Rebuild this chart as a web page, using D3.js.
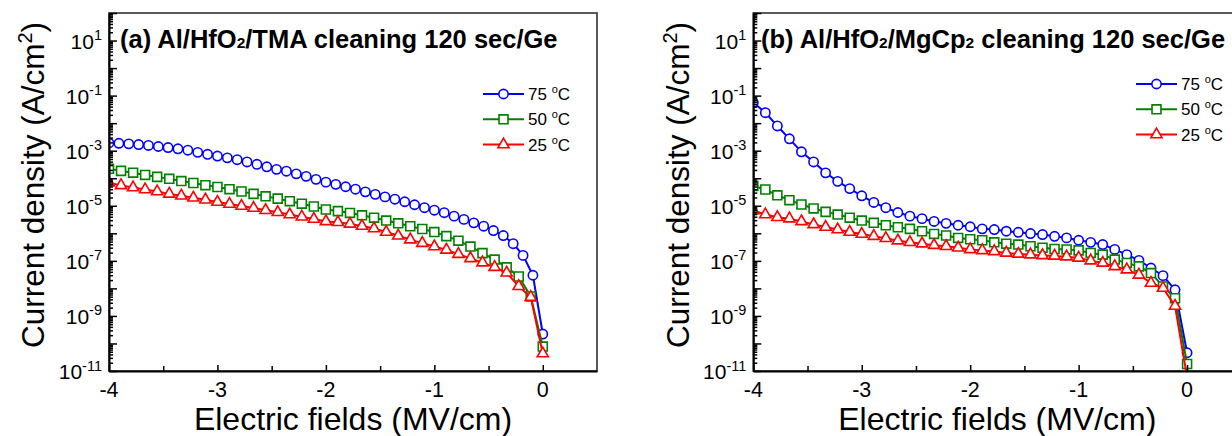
<!DOCTYPE html>
<html>
<head>
<meta charset="utf-8">
<script src="https://cdn.jsdelivr.net/npm/d3@7"></script>
<style>
  body { margin: 0; background: #fff; }
  svg { font-family: "Liberation Sans", Arial, sans-serif; }
</style>
</head>
<body>
<svg width="1232" height="436"></svg>
<script>
// electric field steps (MV/cm); the 75 C curve of panel (a) was measured on a finer grid
const fieldsFine = [-4, -3.909, -3.818, -3.727, -3.636, -3.545, -3.455, -3.364, -3.273, -3.182, -3.091,
  -3, -2.909, -2.818, -2.727, -2.636, -2.545, -2.455, -2.364, -2.273, -2.182, -2.091,
  -2, -1.909, -1.818, -1.727, -1.636, -1.545, -1.455, -1.364, -1.273, -1.182, -1.091,
  -1, -0.909, -0.818, -0.727, -0.636, -0.545, -0.455, -0.364, -0.273, -0.182, -0.091, 0];
const fieldsCoarse = [-4, -3.889, -3.778, -3.667, -3.556, -3.444, -3.333, -3.222, -3.111,
  -3, -2.889, -2.778, -2.667, -2.556, -2.444, -2.333, -2.222, -2.111,
  -2, -1.889, -1.778, -1.667, -1.556, -1.444, -1.333, -1.222, -1.111,
  -1, -0.889, -0.778, -0.667, -0.556, -0.444, -0.333, -0.222, -0.111, 0];

// current density (A/cm2), panel (a) TMA cleaning
const tmaJ75 = [1.9e-3, 1.86e-3, 1.77e-3, 1.67e-3, 1.55e-3, 1.42e-3, 1.30e-3, 1.17e-3, 1.04e-3, 8.7e-4,
  7.4e-4, 6.4e-4, 5.5e-4, 4.7e-4, 3.9e-4, 3.2e-4, 2.6e-4, 2.1e-4, 1.8e-4, 1.44e-4,
  1.17e-4, 9.1e-5, 7.2e-5, 6.0e-5, 4.9e-5, 4.0e-5, 3.2e-5, 2.6e-5, 2.1e-5, 1.73e-5,
  1.40e-5, 1.09e-5, 8.5e-6, 6.9e-6, 5.6e-6, 4.2e-6, 3.2e-6, 2.4e-6, 1.81e-6, 1.26e-6,
  8.3e-7, 4.2e-7, 1.58e-7, 3.0e-8, 2.2e-10];
const tmaJ50 = [2.2e-4, 1.85e-4, 1.59e-4, 1.32e-4, 1.12e-4, 9.5e-5, 7.9e-5, 6.7e-5, 5.6e-5, 4.8e-5,
  4.0e-5, 3.3e-5, 2.7e-5, 2.2e-5, 1.82e-5, 1.47e-5, 1.19e-5, 9.4e-6, 7.3e-6, 6.4e-6,
  5.5e-6, 4.5e-6, 3.7e-6, 2.9e-6, 2.3e-6, 1.81e-6, 1.43e-6, 1.11e-6, 7.9e-7, 5.4e-7,
  3.3e-7, 1.91e-7, 1.11e-7, 5.8e-8, 2.7e-8, 5.1e-9, 7.7e-11];
const tmaJ25 = [6.8e-5, 5.5e-5, 4.6e-5, 3.9e-5, 3.3e-5, 2.7e-5, 2.3e-5, 1.95e-5, 1.66e-5, 1.37e-5,
  1.16e-5, 9.8e-6, 8.3e-6, 6.9e-6, 5.8e-6, 4.8e-6, 4.0e-6, 3.3e-6, 2.7e-6, 2.5e-6,
  2.2e-6, 1.84e-6, 1.49e-6, 1.11e-6, 8.1e-7, 5.9e-7, 4.4e-7, 3.3e-7, 2.5e-7, 1.75e-7,
  1.23e-7, 8.6e-8, 5.9e-8, 3.7e-8, 1.2e-8, 4.8e-9, 4.3e-11];

// panel (b) MgCp2 cleaning
const mgJ75 = [5.6e-2, 2.4e-2, 7.9e-3, 2.7e-3, 9.1e-4, 3.9e-4, 1.57e-4, 7.7e-5, 4.2e-5, 2.3e-5,
  1.32e-5, 8.5e-6, 5.7e-6, 4.2e-6, 3.4e-6, 2.7e-6, 2.3e-6, 1.96e-6, 1.73e-6, 1.45e-6,
  1.37e-6, 1.19e-6, 1.09e-6, 9.8e-7, 9.0e-7, 7.8e-7, 6.8e-7, 5.6e-7, 4.7e-7, 3.9e-7,
  2.6e-7, 1.68e-7, 1.04e-7, 5.5e-8, 2.9e-8, 8.9e-9, 4.6e-11];
const mgJ50 = [5.2e-5, 3.9e-5, 2.4e-5, 1.60e-5, 1.11e-5, 8.0e-6, 6.0e-6, 4.8e-6, 3.7e-6, 2.9e-6,
  2.4e-6, 1.96e-6, 1.66e-6, 1.45e-6, 1.19e-6, 9.5e-7, 8.3e-7, 6.8e-7, 6.1e-7, 5.6e-7,
  4.7e-7, 4.2e-7, 3.9e-7, 3.4e-7, 3.0e-7, 2.7e-7, 2.6e-7, 2.4e-7, 1.94e-7, 1.68e-7,
  1.11e-7, 8.4e-8, 6.3e-8, 3.6e-8, 1.18e-8, 4.4e-9, 1.8e-11];
const mgJ25 = [6.7e-6, 4.8e-6, 3.8e-6, 3.4e-6, 2.7e-6, 2.1e-6, 1.69e-6, 1.37e-6, 1.11e-6, 9.4e-7,
  7.9e-7, 6.6e-7, 5.4e-7, 4.7e-7, 4.2e-7, 3.7e-7, 3.4e-7, 3.0e-7, 2.6e-7, 2.4e-7,
  2.2e-7, 1.94e-7, 1.78e-7, 1.68e-7, 1.58e-7, 1.51e-7, 1.42e-7, 1.28e-7, 1.02e-7, 8.4e-8,
  6.3e-8, 4.8e-8, 3.1e-8, 1.57e-8, 1.03e-8, 2.3e-9, 6e-12];

const temperatures = ["75", "50", "25"];
const xTickValues = [-4, -3, -2, -1, 0];
const xMinorTicks = [-3.5, -2.5, -1.5, -0.5];
const yLabelExponents = [1, -1, -3, -5, -7, -9, -11];
const titleParts = [
  ["(a) Al/HfO", "/TMA cleaning 120 sec/Ge"],
  ["(b) Al/HfO", "/MgCp", " cleaning 120 sec/Ge"]
];

const seriesColors = ["#0000ff", "#008000", "#ff0000"];
const seriesSymbols = [d3.symbolCircle, d3.symbolSquare, d3.symbolTriangle];
const symbolSizes = [68, 80, 54];

const plotTop = 13;
const plotBottom = 371;
const plotWidth = 488;

const panels = [
  {
    left: 109, titleX: 120, legendX: 483, legendY: 94, labelX: 44,
    series: [[fieldsFine, tmaJ75], [fieldsCoarse, tmaJ50], [fieldsCoarse, tmaJ25]]
  },
  {
    left: 753.3, titleX: 761, legendX: 1136, legendY: 84, labelX: 689,
    series: [[fieldsCoarse, mgJ75], [fieldsCoarse, mgJ50], [fieldsCoarse, mgJ25]]
  }
];

const svg = d3.select("svg");

panels.forEach((panel, index) => drawPanel(panel, index));

function drawPanel(panel, index)
{
  const x = d3.scaleLinear().domain([-4, 0.5]).range([panel.left, panel.left + plotWidth]);
  const y = d3.scaleLog().domain([1e-11, 1e2]).range([plotBottom, plotTop]);

  const g = svg.append("g");

  g.append("clipPath")
    .attr("id", `clip-${ index }`)
    .append("rect")
    .attr("x", panel.left)
    .attr("y", plotTop)
    .attr("width", plotWidth)
    .attr("height", plotBottom - plotTop);

  // frame
  g.append("rect")
    .attr("x", panel.left)
    .attr("y", plotTop)
    .attr("width", plotWidth)
    .attr("height", plotBottom - plotTop)
    .attr("fill", "none")
    .attr("stroke", "#333")
    .attr("stroke-width", 1.6);

  // data
  const data = g.append("g").attr("clip-path", `url(#clip-${ index })`);
  panel.series.forEach((s, si) =>
  {
    const points = s[0].map((f, i) => [f, s[1][i]]);
    const line = d3.line().x((d) => x(d[0])).y((d) => y(d[1]));
    data.append("path")
      .attr("d", line(points))
      .attr("fill", "none")
      .attr("stroke", seriesColors[si])
      .attr("stroke-width", 2);
    data.selectAll(null)
      .data(points)
      .enter()
      .append("path")
      .attr("transform", (d) => `translate(${ x(d[0]) }, ${ y(d[1]) })`)
      .attr("d", d3.symbol().type(seriesSymbols[si]).size(symbolSizes[si]))
      .attr("fill", "#fff")
      .attr("stroke", seriesColors[si])
      .attr("stroke-width", 1.6);
  });

  // y axis: decade ticks and minor ticks, pointing inward
  const decades = d3.range(-11, 3).map((e) => Math.pow(10, e));
  const minors = [];
  decades.slice(0, -1).forEach((d) =>
  {
    for (let m = 2; m <= 9; m++) minors.push(d * m);
  });
  const yMajor = g.append("g")
    .attr("transform", `translate(${ panel.left }, 0)`)
    .call(d3.axisLeft(y).tickValues(decades).tickSize(-8).tickSizeOuter(0).tickFormat(""));
  g.append("g")
    .attr("transform", `translate(${ panel.left }, 0)`)
    .call(d3.axisLeft(y).tickValues(minors).tickSize(-4).tickSizeOuter(0).tickFormat(""))
    .select(".domain").remove();
  yMajor.select(".domain").attr("stroke-width", 2);
  g.selectAll(".tick line").attr("stroke-width", 1.5);

  yLabelExponents.forEach((e) =>
  {
    const t = g.append("text")
      .attr("x", panel.left - 7)
      .attr("y", y(Math.pow(10, e)) + 8)
      .attr("text-anchor", "end")
      .attr("font-size", 21)
      .text("10");
    t.append("tspan")
      .attr("dy", -8.5)
      .attr("font-size", 14.5)
      .text(e);
  });

  // x axis
  const xAxis = g.append("g")
    .attr("transform", `translate(0, ${ plotBottom })`)
    .call(d3.axisBottom(x).tickValues(xTickValues).tickSize(-6).tickSizeOuter(0).tickFormat(""));
  xAxis.select(".domain").attr("stroke-width", 2);
  g.append("g")
    .attr("transform", `translate(0, ${ plotBottom })`)
    .call(d3.axisBottom(x).tickValues(xMinorTicks).tickSize(-5).tickSizeOuter(0).tickFormat(""))
    .select(".domain").remove();
  g.selectAll(".tick line").attr("stroke-width", 1.5);

  g.selectAll(null)
    .data(xTickValues)
    .enter()
    .append("text")
    .attr("x", (d) => x(d))
    .attr("y", 397)
    .attr("text-anchor", "middle")
    .attr("font-size", 21.5)
    .text((d) => d);

  // axis titles
  g.append("text")
    .attr("x", panel.left + plotWidth / 2)
    .attr("y", 430)
    .attr("text-anchor", "middle")
    .attr("font-size", 32)
    .text("Electric fields (MV/cm)");

  const yTitle = g.append("text")
    .attr("transform", `translate(${ panel.labelX }, 185) rotate(-90)`)
    .attr("text-anchor", "middle")
    .attr("font-size", 31.5)
    .text("Current density (A/cm");
  yTitle.append("tspan").attr("dy", -12).attr("font-size", 20).text("2");
  yTitle.append("tspan").attr("dy", 12).text(")");

  // panel title with subscript 2
  const parts = titleParts[index];
  const title = g.append("text")
    .attr("x", panel.titleX)
    .attr("y", 48)
    .attr("font-size", 25.5)
    .attr("font-weight", "bold")
    .text(parts[0]);
  parts.slice(1).forEach((p) =>
  {
    title.append("tspan").attr("font-size", 15.5).text("2");
    title.append("tspan").attr("font-size", 25.5).text(p);
  });

  // legend
  temperatures.forEach((temp, si) =>
  {
    const ly = panel.legendY + si * 25.3;
    g.append("line")
      .attr("x1", panel.legendX)
      .attr("x2", panel.legendX + 41)
      .attr("y1", ly)
      .attr("y2", ly)
      .attr("stroke", seriesColors[si])
      .attr("stroke-width", 2);
    g.append("path")
      .attr("transform", `translate(${ panel.legendX + 20.5 }, ${ ly })`)
      .attr("d", d3.symbol().type(seriesSymbols[si]).size(symbolSizes[si]))
      .attr("fill", "#fff")
      .attr("stroke", seriesColors[si])
      .attr("stroke-width", 1.6);
    const lt = g.append("text")
      .attr("x", panel.legendX + 45)
      .attr("y", ly + 6)
      .attr("font-size", 17)
      .text(temp + " ");
    lt.append("tspan").attr("dy", -7).attr("font-size", 11).text("o");
    lt.append("tspan").attr("dy", 7).text("C");
  });
}
</script>
</body>
</html>
